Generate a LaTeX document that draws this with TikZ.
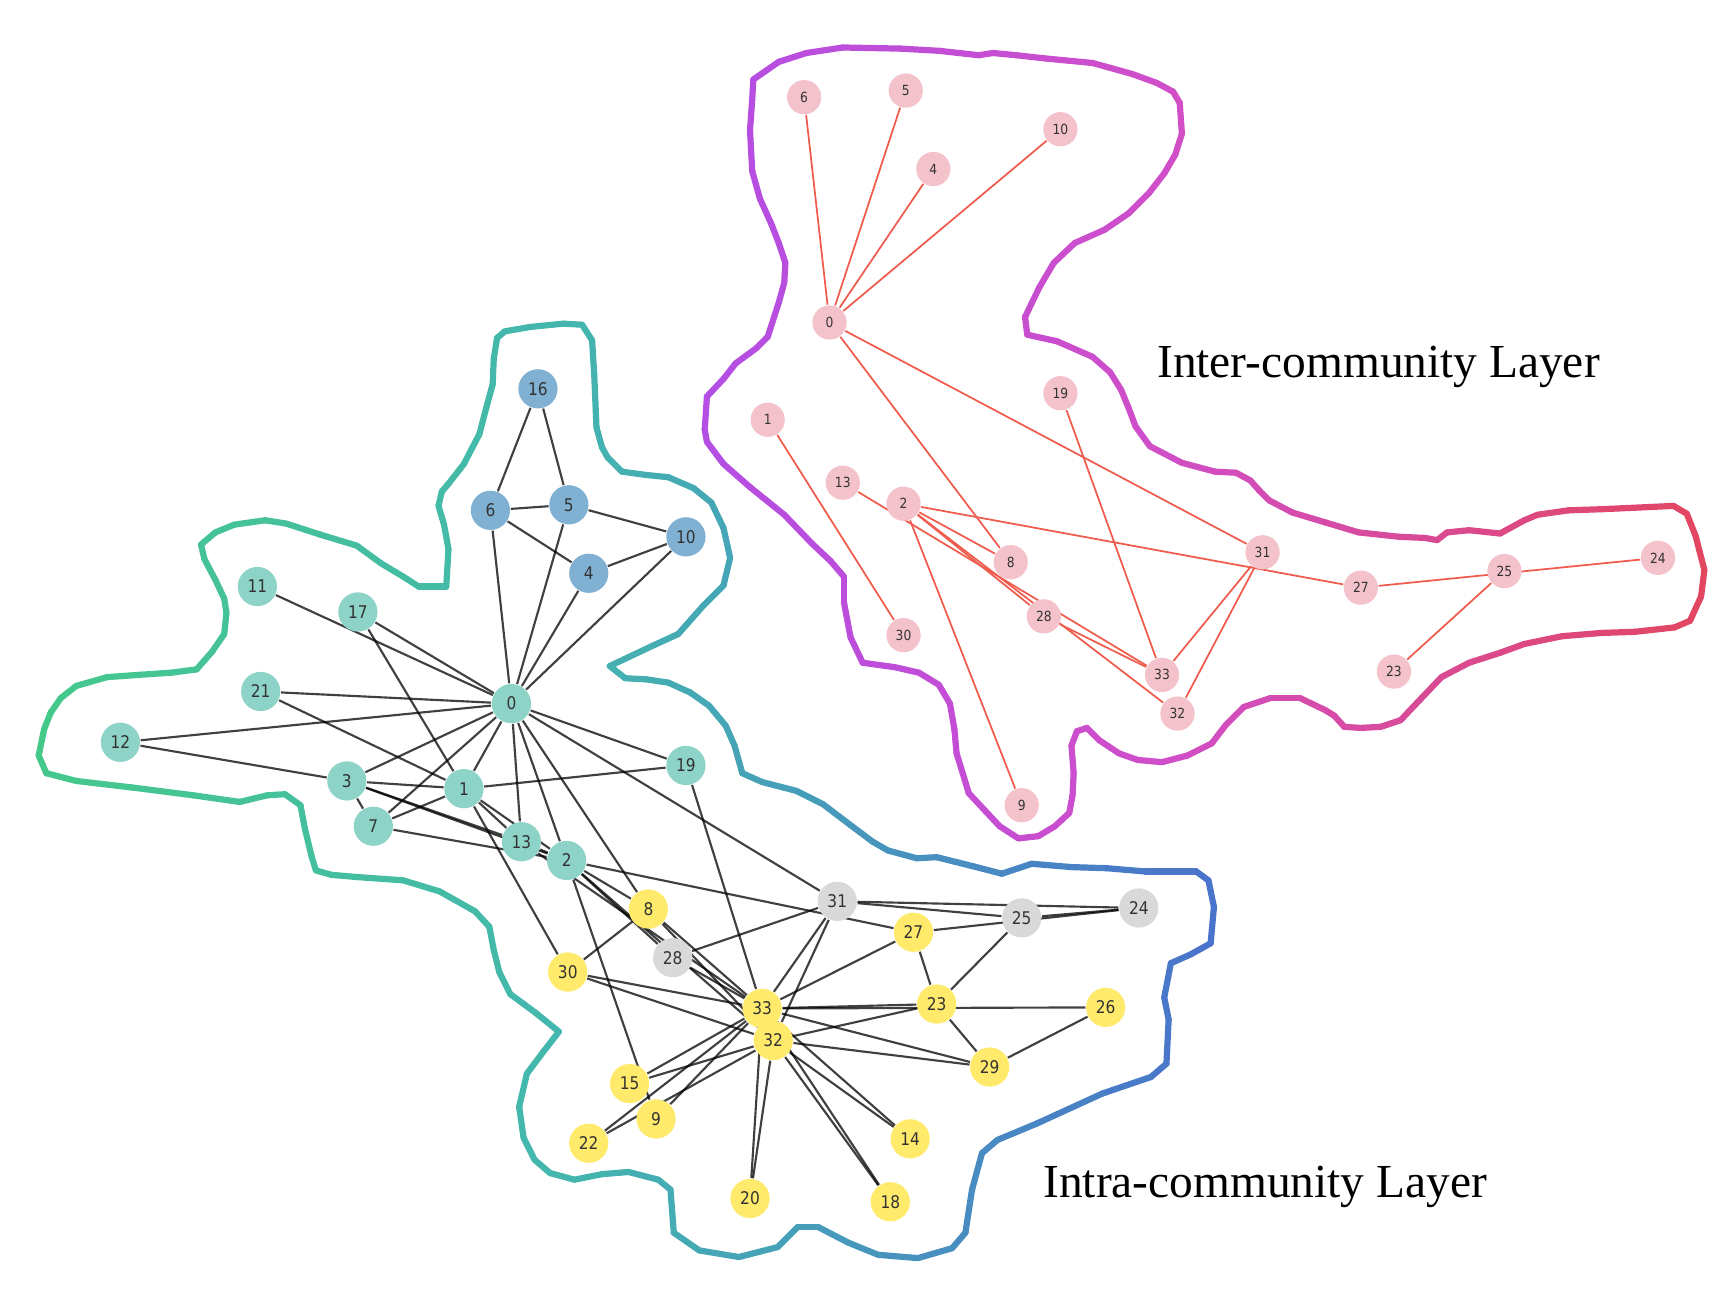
\documentclass[tikz,border=0pt]{standalone}
\usepackage{fontspec}
\setmainfont{Liberation Serif}
\newfontfamily\lblfont[FakeStretch=0.88]{DejaVu Sans}
\pgfdeclarelayer{bg}
\pgfsetlayers{bg,main}
\definecolor{tealN}{HTML}{8DD3C7}
\definecolor{blueN}{HTML}{80B1D3}
\definecolor{yellowN}{HTML}{FFEA6C}
\definecolor{greyN}{HTML}{D9D9D9}
\definecolor{pinkN}{HTML}{F4C2CB}
\definecolor{redE}{HTML}{EF5B4C}
\definecolor{lhA}{RGB}{69,201,139}
\definecolor{lhB}{RGB}{68,183,174}
\definecolor{lhC}{RGB}{74,114,204}
\definecolor{uhA}{RGB}{180,78,228}
\definecolor{uhB}{RGB}{208,78,200}
\definecolor{uhC}{RGB}{226,70,96}
\newcommand\drawhull[7]{%
 \foreach \x/\y [remember=\x as \lx (initially -1), remember=\y as \ly (initially -1)] in {#1}{%
   \ifdim\lx pt>-0.5pt
     \pgfmathsetmacro\mx{(\x+\lx)/2}%
     \ifdim\mx pt<#3pt
       \pgfmathtruncatemacro\pc{max(0,min(100,(\mx-#2)/(#3-#2)*100))}%
       \colorlet{segc}{#6!\pc!#5}%
     \else
       \pgfmathtruncatemacro\pc{max(0,min(100,(\mx-#3)/(#4-#3)*100))}%
       \colorlet{segc}{#7!\pc!#6}%
     \fi
     \draw[hullline,segc] (\lx,\ly) -- (\x,\y);
   \fi
 }}
\tikzset{
 lnode/.style={circle,inner sep=0pt,minimum size=0.355cm,text=black!80,font=\lblfont\fontsize{4.5}{5}\selectfont},
 unode/.style={circle,inner sep=0pt,minimum size=0.31cm,fill=pinkN,text=black!80,font=\lblfont\fontsize{3.6}{4}\selectfont},
 ledge/.style={line width=0.55pt,draw=black,draw opacity=0.75},
 uedge/.style={line width=0.45pt,draw=redE},
 hullline/.style={line width=1.6pt,line cap=round,line join=round},
 layerlabel/.style={font=\fontsize{12.2}{14}\selectfont,anchor=base west,inner sep=0pt}
}
\begin{document}
\begin{tikzpicture}[x=0.01cm,y=-0.01cm]
\useasboundingbox (0,0) rectangle (1568,1191);
% ---------- lower (intra-community) nodes
\foreach \n/\px/\py in {16/487/352,6/444/462,5/515/457,10/621/486,4/533/519}
  \node[lnode,fill=blueN] (L\n) at (\px,\py) {\n};
\foreach \n/\px/\py in {11/233/531,17/324/554,21/236/626,0/463/637,12/109/672,19/621/693,3/314/707,1/420/714,7/338/748,13/472/762,2/513/779}
  \node[lnode,fill=tealN] (L\n) at (\px,\py) {\n};
\foreach \n/\px/\py in {8/587/823,27/827/844,30/514/880,33/690/913,23/848/909,26/1001/912,32/700/942,29/896/966,15/570/981,9/594/1013,22/533/1035,14/824/1031,20/679/1085,18/806/1088}
  \node[lnode,fill=yellowN] (L\n) at (\px,\py) {\n};
\foreach \n/\px/\py in {31/758/816,25/925/831,24/1031/822,28/609/867}
  \node[lnode,fill=greyN] (L\n) at (\px,\py) {\n};
% ---------- upper (inter-community) nodes
\foreach \n/\px/\py in {6/728/88,5/820/82,10/960/117,4/845/153,0/751/292,19/960/356,1/695/380,13/763/437,2/818/456,8/915/509,31/1143/500,27/1232/532,25/1362/517,24/1501/505,28/945/558,30/818/575,33/1052/611,23/1262/608,32/1066/646,9/925/729}
  \node[unode] (U\n) at (\px,\py) {\n};
% ---------- labels
\node[layerlabel] (interlbl) at (1047,342) {Inter-community Layer};
\node[layerlabel] (intralbl) at (944,1084) {Intra-community Layer};
\begin{pgfonlayer}{bg}
\foreach \a/\b in {0/1,0/2,0/3,0/4,0/5,0/6,0/7,0/8,0/10,0/11,0/12,0/13,0/17,0/19,0/21,0/31,
 1/2,1/3,1/7,1/13,1/17,1/19,1/21,1/30,
 2/3,2/7,2/8,2/9,2/13,2/27,2/28,2/32,
 3/7,3/12,3/13,4/6,4/10,5/6,5/10,5/16,6/16,
 8/30,8/32,8/33,9/33,13/33,14/32,14/33,15/32,15/33,18/32,18/33,19/33,20/32,20/33,22/32,22/33,
 23/25,23/27,23/29,23/32,23/33,24/25,24/27,24/31,25/31,26/29,26/33,27/33,28/31,28/33,
 29/32,29/33,30/32,30/33,31/32,31/33,32/33}
  \draw[ledge] (L\a) -- (L\b);
\foreach \a/\b in {0/4,0/5,0/6,0/10,0/8,0/31,1/30,2/8,2/9,2/27,2/28,2/32,13/33,19/33,23/25,24/27,28/33,31/32,31/33}
  \draw[uedge] (U\a) -- (U\b);
\drawhull{35/684, 40/660, 46/645, 55/632, 69/621, 97/613, 125/611, 155/609, 178/606, 192/590, 203/574, 205/555, 203/542, 195/525, 185/506, 182/493, 195/482, 212/475, 240/471, 259/474, 290/484, 323/494, 345/510, 365/522, 379/531, 404/531, 406/497, 402/475, 397/458, 400/445, 406/438, 420/420, 434/393, 440/370, 446/348, 447/325, 450/306, 457/300, 480/296, 510/293, 527/294, 536/308, 538/340, 540/387, 545/405, 550/414, 563/427, 585/430, 605/432, 628/442, 644/455, 655/478, 661/505, 655/530, 637/548, 614/574, 590/585, 552/603, 566/614, 585/615, 605/618, 625/627, 642/639, 657/657, 665/675, 672/700, 690/708, 721/716, 745/728, 770/747, 790/762, 804/770, 830/777, 848/776, 880/784, 907/791, 934/782, 970/785, 1002/786, 1037/789, 1083/789, 1094/797, 1099/821, 1096/854, 1078/864, 1060/872, 1054/903, 1058/923, 1056/963, 1042/975, 998/990, 939/1017, 903/1032, 889/1044, 880/1077, 874/1116, 862/1130, 831/1139, 795/1136, 768/1125, 741/1111, 722/1111, 704/1129, 669/1138, 633/1132, 610/1116, 607/1077, 596/1068, 569/1061, 545/1063, 520/1068, 498/1062, 484/1050, 474/1030, 470/1002, 477/972, 492/952, 506/934, 485/917, 462/900, 452/880, 447/860, 443/839, 430/825, 398/807, 365/797, 323/794, 300/792, 286/788, 282/775, 276/750, 272/729, 258/719, 242/720, 217/726, 175/720, 120/713, 69/707, 42/700, 35/684}{35}{500}{1100}{lhA}{lhB}{lhC}
\drawhull{682/72, 705/56, 730/48, 763/43, 815/44, 850/46, 886/50, 899/48, 920/50, 947/53, 989/57, 1025/67, 1047/75, 1062/83, 1068/93, 1070/121, 1064/140, 1054/157, 1040/175, 1022/193, 1000/208, 973/220, 954/238, 941/260, 928/287, 930/303, 957/309, 989/323, 1005/337, 1015/353, 1022/370, 1028/386, 1041/404, 1070/419, 1100/427, 1119/428, 1132/435, 1140/444, 1149/453, 1170/464, 1200/473, 1230/482, 1267/486, 1290/487, 1301/489, 1310/482, 1330/480, 1358/483, 1380/471, 1392/466, 1420/462, 1450/461, 1494/459, 1515/458, 1527/465, 1535/485, 1543/516, 1540/540, 1530/562, 1516/568, 1480/572, 1450/573, 1414/576, 1380/583, 1358/591, 1330/600, 1305/613, 1285/634, 1268/652, 1250/658, 1232/659, 1217/658, 1208/648, 1200/643, 1177/632, 1150/632, 1126/640, 1110/656, 1097/673, 1075/684, 1052/690, 1030/688, 1013/682, 995/670, 984/659, 975/662, 970/675, 972/700, 971/720, 968/736, 955/748, 940/757, 922/759, 905/748, 890/732, 877/718, 870/695, 866/682, 864/660, 860/637, 850/620, 832/609, 810/604, 781/600, 770/577, 764/545, 764/522, 752/508, 735/492, 710/466, 679/441, 655/420, 640/400, 638/389, 640/359, 655/343, 666/329, 685/315, 695/305, 705/274, 710/256, 711/238, 705/220, 698/202, 688/180, 681/155, 679/118, 681/90, 682/72}{640}{1050}{1540}{uhA}{uhB}{uhC}
\end{pgfonlayer}
\end{tikzpicture}
\end{document}
